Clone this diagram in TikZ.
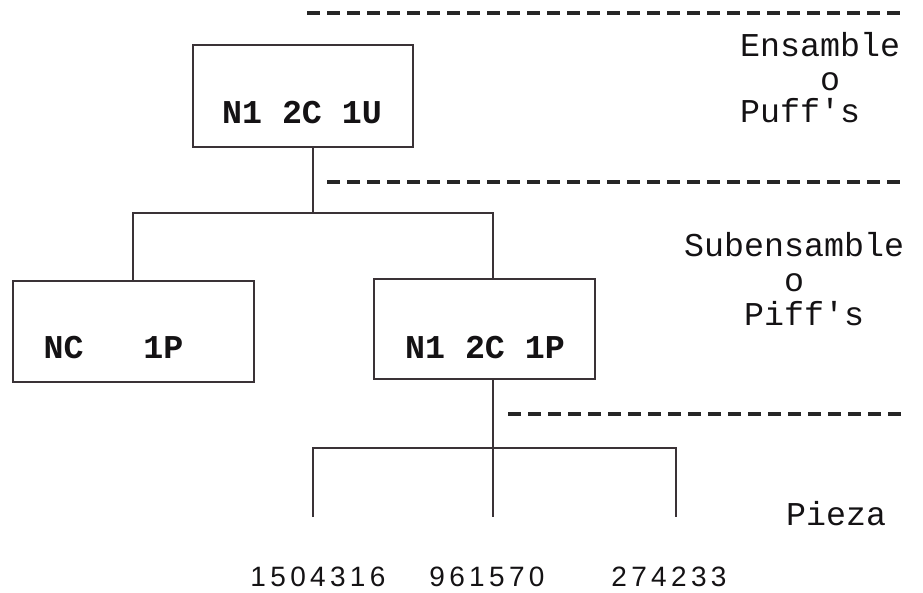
\documentclass[tikz,border=0pt]{standalone}
\usepackage{fontspec}
\newfontfamily\monofont{Liberation Mono}
\newfontfamily\numfont[LetterSpace=15.5]{Liberation Sans}
\definecolor{ink}{HTML}{3A3236}
\definecolor{textink}{HTML}{141214}
\begin{document}
\begin{tikzpicture}[x=1pt,y=-1pt,
  box/.style={draw=ink, line width=2.6pt, rectangle, inner sep=0pt},
  boxtext/.style={font=\monofont\bfseries\fontsize{33.3}{40}\selectfont,
    text=textink, inner sep=0pt, anchor=base},
  levellabel/.style={font=\monofont\fontsize{33.3}{34}\selectfont,
    text=textink, inner sep=0pt, anchor=base west},
  partno/.style={font=\numfont\fontsize{28}{30}\selectfont,
    text=textink, inner sep=0pt, anchor=base},
  conn/.style={draw=ink, line width=2.5pt},
  levelline/.style={draw=black!85, line width=3.4pt, dash pattern=on 13pt off 7pt}
]
\useasboundingbox (0,0) rectangle (923,593);

% level separators
\coordinate (d1a) at (307,13);  \coordinate (d1b) at (903,13);
\coordinate (d2a) at (327,182); \coordinate (d2b) at (903,182);
\coordinate (d3a) at (508,414); \coordinate (d3b) at (903,414);
\draw[levelline] (d1a) -- (d1b);
\draw[levelline] (d2a) -- (d2b);
\draw[levelline] (d3a) -- (d3b);

% level names (one line per node, monospaced columns)
\node[levellabel] (lvl1a) at (740,57)  {Ensamble};
\node[levellabel] (lvl1b) at (740,91)  {\hphantom{0000}o};
\node[levellabel] (lvl1c) at (740,123) {Puff's};
\node[levellabel] (lvl2a) at (684,257) {Subensamble};
\node[levellabel] (lvl2b) at (684,292) {\hphantom{00000}o};
\node[levellabel] (lvl2c) at (684,326) {\hphantom{000}Piff's};
\node[levellabel] (lvl3)  at (786,525) {Pieza};

% boxes
\node[box, minimum width=220pt, minimum height=102pt] (top) at (303,96) {};
\node[boxtext] (toptxt) at (302,124) {N1 2C 1U};
\node[box, minimum width=241pt, minimum height=101pt] (left) at (133.5,331.5) {};
\node[boxtext] (lefttxt) at (113.5,359) {NC\hphantom{000}1P};
\node[box, minimum width=221pt, minimum height=100pt] (right) at (484.5,329) {};
\node[boxtext] (righttxt) at (485,358) {N1 2C 1P};

% upper tree
\coordinate (j1) at (313,213);
\coordinate (lbar) at (133,213);
\coordinate (rbar) at (493,213);
\draw[conn] (top.south -| j1) -- (j1);
\draw[conn] (left.north -| lbar) -- (lbar) -- (rbar) -- (right.north -| rbar);

% lower tree
\coordinate (j2) at (493,448);
\coordinate (b1) at (313,448);
\coordinate (b3) at (676,448);
\coordinate (e1) at (313,517);
\coordinate (e2) at (493,517);
\coordinate (e3) at (676,517);
\draw[conn] (right.south -| j2) -- (j2) -- (e2);
\draw[conn] (e1) -- (b1) -- (b3) -- (e3);

% part numbers
\node[partno] (p1) at (318,586) {1504316};
\node[partno] (p2) at (487,586) {961570};
\node[partno] (p3) at (669,586) {274233};
\end{tikzpicture}
\end{document}
